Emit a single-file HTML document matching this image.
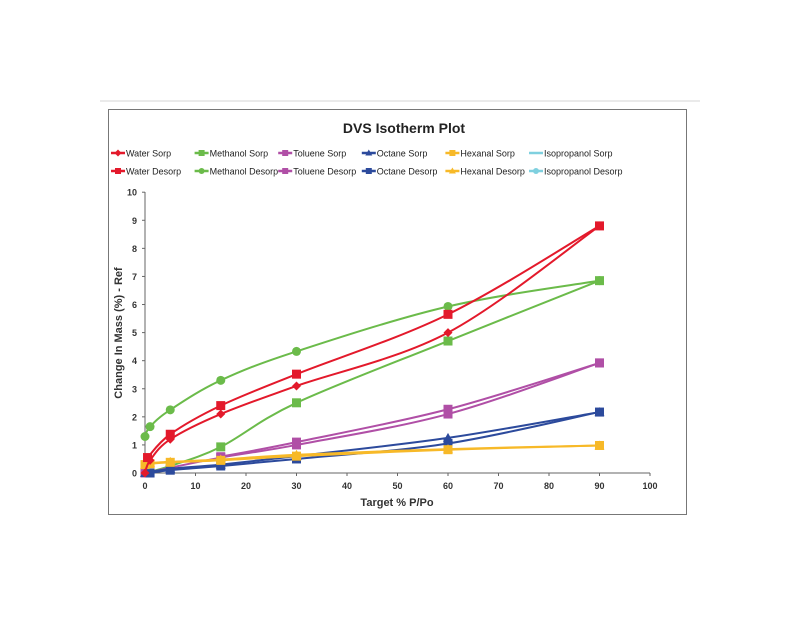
<!DOCTYPE html>
<html><head><meta charset="utf-8"><style>
body{margin:0;background:#fff;width:800px;height:623px;overflow:hidden;font-family:"Liberation Sans",Arial,sans-serif}
</style></head><body>
<svg id="s" width="800" height="623" xmlns="http://www.w3.org/2000/svg" font-family="Liberation Sans, Arial, sans-serif">
<line x1="100" y1="101" x2="700" y2="101" stroke="#e4e4e4" stroke-width="1.5"/>
<rect x="108.5" y="109.5" width="578" height="405" fill="#fff" stroke="#777" stroke-width="1"/>
<text x="404" y="133" font-size="14" font-weight="bold" text-anchor="middle" fill="#222">DVS Isotherm Plot</text>
<text transform="translate(122,333) rotate(-90)" font-size="11" font-weight="bold" text-anchor="middle" fill="#333">Change In Mass (%) - Ref</text>
<text x="397" y="506" font-size="11" font-weight="bold" text-anchor="middle" fill="#333">Target % P/Po</text>
<g id="g"></g>
</svg>
<script>
var g=document.getElementById('g'),NS='http://www.w3.org/2000/svg';
function el(t,a,txt){var e=document.createElementNS(NS,t);for(var k in a)e.setAttribute(k,a[k]);if(txt!=null)e.textContent=txt;g.appendChild(e);return e;}
function X(v){return 145+v*5.05}function Y(v){return 473-v*28.08}
el('line',{x1:145,y1:192,x2:145,y2:473,stroke:'#666','stroke-width':1});
el('line',{x1:145,y1:473,x2:650,y2:473,stroke:'#666','stroke-width':1});
for(var i=0;i<=10;i++){el('line',{x1:142,y1:Y(i),x2:145,y2:Y(i),stroke:'#666'});el('text',{x:137,y:Y(i)+3.5,'font-size':9,'font-weight':'bold','text-anchor':'end',fill:'#333'},i);}
for(var i=0;i<=100;i+=10){el('line',{x1:X(i),y1:473,x2:X(i),y2:476,stroke:'#666'});el('text',{x:X(i),y:489,'font-size':9,'font-weight':'bold','text-anchor':'middle',fill:'#333'},i);}
function mk(x,y,m,c){
 if(m=='s')el('rect',{x:x-4.5,y:y-4.5,width:9,height:9,fill:c});
 else if(m=='c')el('circle',{cx:x,cy:y,r:4.5,fill:c});
 else if(m=='d')el('path',{d:'M'+x+' '+(y-4.5)+'L'+(x+4.5)+' '+y+'L'+x+' '+(y+4.5)+'L'+(x-4.5)+' '+y+'Z',fill:c});
 else if(m=='t')el('path',{d:'M'+x+' '+(y-5)+'L'+(x+5)+' '+(y+4)+'L'+(x-5)+' '+(y+4)+'Z',fill:c});
}
function curve(p){var d='M'+p[0][0]+' '+p[0][1];for(var i=0;i<p.length-1;i++){var p0=p[i-1]||p[i],p1=p[i],p2=p[i+1],p3=p[i+2]||p2;var t=6;d+='C'+(p1[0]+(p2[0]-p0[0])/t)+' '+(p1[1]+(p2[1]-p0[1])/t)+' '+(p2[0]-(p3[0]-p1[0])/t)+' '+(p2[1]-(p3[1]-p1[1])/t)+' '+p2[0]+' '+p2[1];}return d;}
var R='#e3192b',G='#6bbb4a',P='#b04fa6',B='#2c4a9c',O='#f7b928',C='#7fd0df';
var S=[
[G,'c',[[0,1.3],[1,1.65],[5,2.25],[15,3.3],[30,4.33],[60,5.93],[90,6.85]]],
[G,'s',[[0,0],[5,0.25],[15,0.93],[30,2.5],[60,4.7],[90,6.85]]],
[P,'s',[[0,0],[15,0.55],[30,1.0],[60,2.1],[90,3.92]]],
[P,'s',[[15,0.58],[30,1.1],[60,2.27],[90,3.92]]],
[B,'t',[[0,0],[5,0.15],[15,0.3],[30,0.6],[60,1.25],[90,2.17]]],
[B,'s',[[1,0],[5,0.1],[15,0.25],[30,0.5],[60,1.05],[90,2.17]]],
[O,'s',[[0,0.3],[1,0.33],[5,0.38],[15,0.45],[30,0.6],[60,0.83],[90,0.98]]],
[O,'t',[[0,0.3],[1,0.35],[5,0.4],[15,0.48],[30,0.65],[60,0.85],[90,0.98]]],
[R,'d',[[0,0],[1,0.45],[5,1.2],[15,2.1],[30,3.1],[60,5.0],[90,8.8]]],
[R,'s',[[0.5,0.55],[5,1.38],[15,2.4],[30,3.52],[60,5.65],[90,8.8]]]
];
S.forEach(function(s){var p=s[2].map(function(q){return[X(q[0]),Y(q[1])]});el('path',{d:curve(p),fill:'none',stroke:s[0],'stroke-width':2});p.forEach(function(q){mk(q[0],q[1],s[1],s[0])});});
var L=[['Water Sorp',R,'d'],['Methanol Sorp',G,'s'],['Toluene Sorp',P,'s'],['Octane Sorp',B,'t'],['Hexanal Sorp',O,'s'],['Isopropanol Sorp',C,'n'],
['Water Desorp',R,'s'],['Methanol Desorp',G,'c'],['Toluene Desorp',P,'s'],['Octane Desorp',B,'s'],['Hexanal Desorp',O,'t'],['Isopropanol Desorp',C,'c']];
L.forEach(function(l,i){var col=i%6,row=Math.floor(i/6);var x=111+col*83.6,y=153+row*18;
el('line',{x1:x,y1:y,x2:x+14,y2:y,stroke:l[1],'stroke-width':2.5});
if(l[2]!='n'){var m=l[2];var e=el('g',{});}
if(l[2]=='s')el('rect',{x:x+4,y:y-3,width:6,height:6,fill:l[1]});else if(l[2]=='c')el('circle',{cx:x+7,cy:y,r:3,fill:l[1]});else if(l[2]=='d')el('path',{d:'M'+(x+7)+' '+(y-3.5)+'l3.5 3.5-3.5 3.5-3.5-3.5z',fill:l[1]});else if(l[2]=='t')el('path',{d:'M'+(x+7)+' '+(y-3.5)+'l3.5 6h-7z',fill:l[1]});
el('text',{x:x+15,y:y+3.5,'font-size':9,fill:'#222'},l[0]);});
</script>
</body></html>
